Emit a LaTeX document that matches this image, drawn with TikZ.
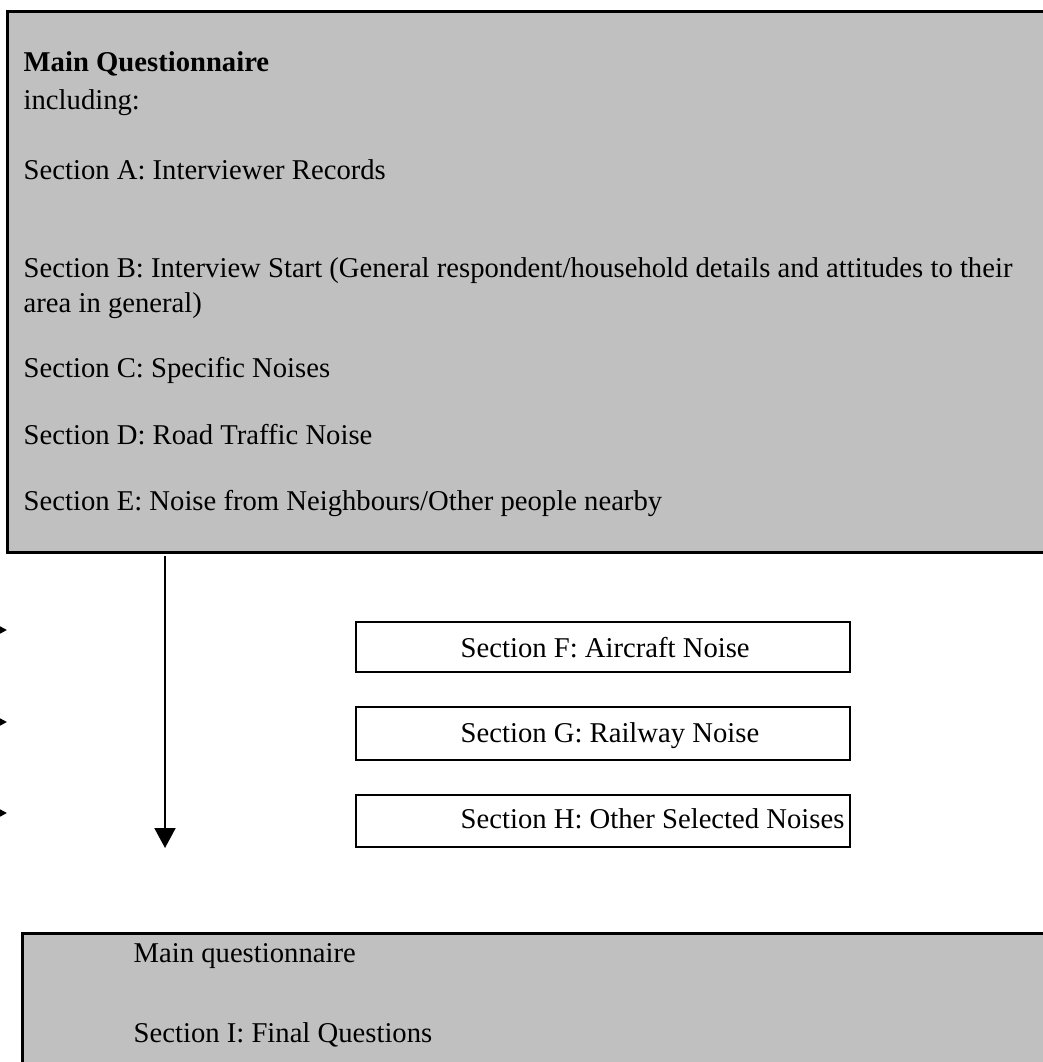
\documentclass[tikz,border=0pt]{standalone}
\usepackage{fontspec}
\setmainfont{Liberation Serif}
\usetikzlibrary{arrows.meta}

\definecolor{boxgray}{HTML}{C0C0C0}

\tikzset{
  txt/.style={anchor=base west, inner sep=0pt, font=\fontsize{8.6}{10.5}\selectfont},
  bigbox/.style={draw, fill=boxgray, line width=0.9pt},
  smallbox/.style={draw, line width=0.6pt},
  flow/.style={line width=0.6pt, -{Triangle[width=6.3pt,length=6pt]}},
  stub/.style={line width=0.6pt, -{Triangle[width=2.7pt,length=2.7pt]}}
}

\begin{document}
\begin{tikzpicture}[x=0.3pt, y=-0.3pt]
  \useasboundingbox (0,0) rectangle (1042,1062);

  % main questionnaire, first part
  \draw[bigbox] (7,12) rectangle (1075,552);
  \node[txt, font=\fontsize{8.6}{10.5}\selectfont\bfseries] (title) at (23,72) {Main Questionnaire};
  \node[txt] (incl) at (23,110) {including:};
  \node[txt] (secA) at (23,180) {Section A: Interviewer Records};
  \node[txt] (secB) at (23,278) {Section B: Interview Start (General respondent/household details and attitudes to their};
  \node[txt] (secBb) at (23,313) {area in general)};
  \node[txt] (secC) at (23,378) {Section C: Specific Noises};
  \node[txt] (secD) at (23,445) {Section D: Road Traffic Noise};
  \node[txt] (secE) at (23,510) {Section E: Noise from Neighbours/Other people nearby};

  % selected noise modules
  \draw[smallbox] (356,622) rectangle (850,672);
  \draw[smallbox] (356,707) rectangle (850,760);
  \draw[smallbox] (356,795) rectangle (850,847);
  \node[txt] (secF) at (460,657) {Section F: Aircraft Noise};
  \node[txt] (secG) at (460,742) {Section G: Railway Noise};
  \node[txt] (secH) at (460,828) {Section H: Other Selected Noises};

  % arrows
  \coordinate (flowtop) at (165,556);
  \coordinate (flowend) at (165,848);
  \draw[flow] (flowtop) -- (flowend);
  \foreach \yy/\nm in {630/F,722/G,813/H} {
    \coordinate (in\nm) at (-30,\yy);
    \coordinate (to\nm) at (7,\yy);
    \draw[stub] (in\nm) -- (to\nm);
  }

  % main questionnaire, final part
  \draw[bigbox] (22,933) rectangle (1075,1090);
  \node[txt] (mainq) at (133,962) {Main questionnaire};
  \node[txt] (secI) at (133,1042) {Section I: Final Questions};
\end{tikzpicture}
\end{document}
